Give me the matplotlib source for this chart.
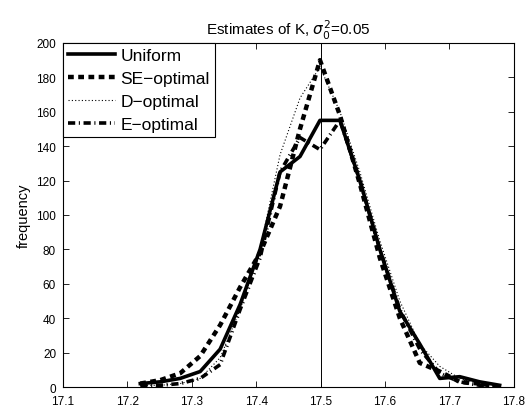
import matplotlib
matplotlib.use("Agg")
import matplotlib.pyplot as plt
import numpy as np

plt.rcParams['font.family'] = ['Liberation Sans', 'DejaVu Sans']

bins = [17.22, 17.251, 17.282, 17.313, 17.344, 17.375, 17.406, 17.437, 17.468,
        17.499, 17.53, 17.561, 17.592, 17.623, 17.654, 17.685, 17.716, 17.747, 17.778]
uniform = [2, 3, 5, 9, 22, 48, 80, 125, 134, 155, 155, 120, 80, 44, 25, 5, 6, 3, 1]
se_opt = [2, 4, 8, 18, 36, 58, 78, 105, 150, 190, 158, 118, 75, 40, 14, 9, 3, 2, 0]
d_opt = [1, 1, 2, 5, 17, 45, 80, 135, 168, 186, 160, 125, 85, 50, 25, 12, 5, 2, 1]
e_opt = [1, 1, 2, 5, 13, 45, 75, 125, 145, 138, 155, 120, 80, 45, 22, 8, 3, 1, 0]

xticks = [17.1, 17.2, 17.3, 17.4, 17.5, 17.6, 17.7, 17.8]
yticks = list(range(0, 201, 20))
vline_x = 17.5

fig = plt.figure(figsize=(5.26, 4.14), dpi=100)
ax = fig.add_axes([0.1198, 0.0628, 0.857, 0.831])

ax.plot(bins, uniform, color='black', lw=2.6, ls='-', label='Uniform')
ax.plot(bins, se_opt, color='black', lw=3.2, ls=(0, (1.3, 1.0)), label='SE\u2212optimal')
ax.plot(bins, d_opt, color='black', lw=0.8, ls=(0, (1, 2)), label='D\u2212optimal')
ax.plot(bins, e_opt, color='black', lw=2.6, ls=(0, (2.0, 1.0, 0.3, 1.0)), label='E\u2212optimal')
ax.axvline(vline_x, color='black', lw=0.7)

ax.set_xlim(17.1, 17.8)
ax.set_ylim(0, 200)
ax.set_xticks(xticks)
ax.set_xticklabels([f"{t:.1f}" for t in xticks])
ax.set_yticks(yticks)
ax.tick_params(direction='in', top=True, right=True, labelsize=8.5, length=4, width=0.6)
ax.tick_params(axis='x', pad=6)
ax.tick_params(axis='y', pad=5)
for s in ax.spines.values():
    s.set_linewidth(0.8)
ax.set_ylabel('frequency', fontsize=10.5)
ax.set_title(r'Estimates of K, $\sigma_0^2$=0.05', fontsize=11, pad=6)

leg = ax.legend(loc='upper left', fontsize=12.5, fancybox=False, framealpha=1,
                edgecolor='black', borderaxespad=0.0, handlelength=2.7,
                borderpad=0.3, labelspacing=0.45, handletextpad=0.3)
leg.get_frame().set_linewidth(0.8)

fig.savefig('out.png', dpi=100)
